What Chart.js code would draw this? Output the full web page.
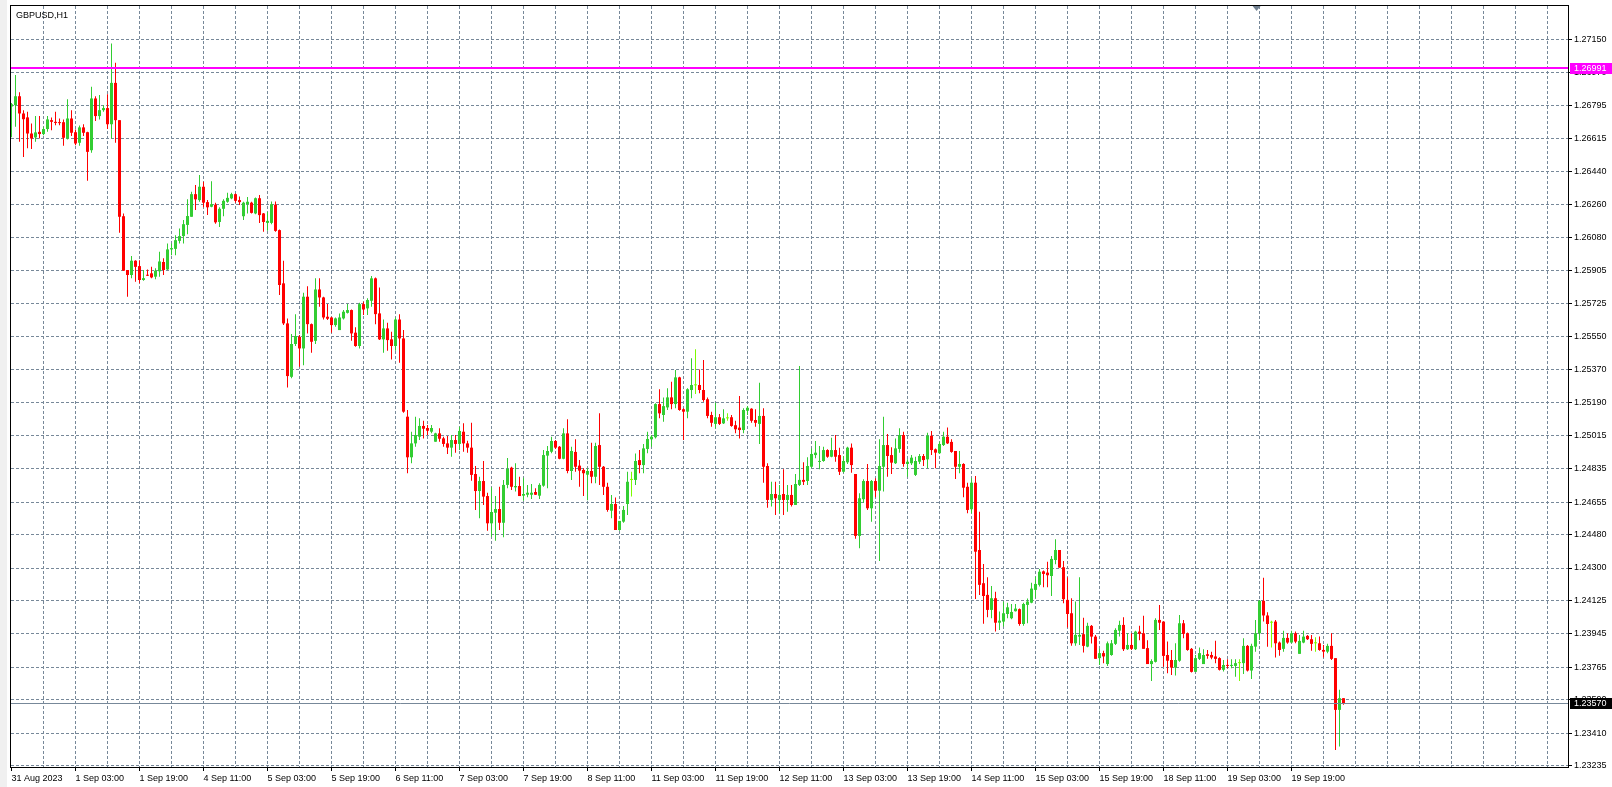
<!DOCTYPE html>
<html><head><meta charset="utf-8">
<script src="https://cdn.jsdelivr.net/npm/chart.js@4.4.0/dist/chart.umd.min.js"></script>
<style>html,body{margin:0;padding:0;background:#fff;overflow:hidden}canvas{display:block}</style>
</head><body><canvas id="c" width="1612" height="787"></canvas>
<script>
const symbolTitle = 'GBPUSD,H1';
const timeLabels = ['31 Aug 2023','1 Sep 03:00','1 Sep 19:00','4 Sep 11:00','5 Sep 03:00','5 Sep 19:00','6 Sep 11:00','7 Sep 03:00','7 Sep 19:00','8 Sep 11:00','11 Sep 03:00','11 Sep 19:00','12 Sep 11:00','13 Sep 03:00','13 Sep 19:00','14 Sep 11:00','15 Sep 03:00','15 Sep 19:00','18 Sep 11:00','19 Sep 03:00','19 Sep 19:00'];
const priceTicks = [1.27150,1.26970,1.26795,1.26615,1.26440,1.26260,1.26080,1.25905,1.25725,1.25550,1.25370,1.25190,1.25015,1.24835,1.24655,1.24480,1.24300,1.24125,1.23945,1.23765,1.23590,1.23410,1.23235];
const hlinePrice = 1.26991;
const bidPrice = 1.23570;

const openP = [
1.26788,1.26796,1.26844,1.26751,1.26730,1.26643,1.26622,1.26652,1.26640,1.26667,
1.26715,1.26706,1.26704,1.26704,1.26616,1.26724,1.26650,1.26593,1.26676,1.26650,
1.26553,1.26832,1.26737,1.26769,1.26780,1.26693,1.26916,1.26715,1.26197,1.25907,
1.25880,1.25957,1.25928,1.25853,1.25880,1.25889,1.25871,1.25900,1.25950,1.25910,
1.26018,1.26021,1.26064,1.26090,1.26150,1.26194,1.26316,1.26284,1.26356,1.26273,
1.26248,1.26259,1.26166,1.26237,1.26275,1.26293,1.26316,1.26284,1.26197,1.26262,
1.26270,1.26212,1.26294,1.26212,1.26161,1.26161,1.26259,1.26122,1.25835,1.25619,
1.25331,1.25508,1.25547,1.25484,1.25763,1.25615,1.25525,1.25802,1.25759,1.25655,
1.25651,1.25610,1.25583,1.25646,1.25676,1.25691,1.25569,1.25497,1.25723,1.25700,
1.25741,1.25862,1.25673,1.25533,1.25592,1.25533,1.25497,1.25640,1.25538,1.25116,
1.24897,1.24972,1.25008,1.25066,1.25055,1.25035,1.24981,1.25026,1.24999,1.24972,
1.24949,1.24990,1.24969,1.25035,1.24972,1.24949,1.24807,1.24715,1.24769,1.24688,
1.24541,1.24598,1.24618,1.24544,1.24748,1.24841,1.24735,1.24742,1.24690,1.24695,
1.24695,1.24710,1.24690,1.24744,1.24906,1.24927,1.24985,1.24954,1.24889,1.25026,
1.24823,1.24926,1.24852,1.24829,1.24803,1.24823,1.24792,1.24963,1.24846,1.24738,
1.24609,1.24645,1.24505,1.24550,1.24645,1.24775,1.24775,1.24882,1.24855,1.24942,
1.24994,1.25005,1.25184,1.25125,1.25166,1.25220,1.25184,1.25328,1.25156,1.25143,
1.25260,1.25285,1.25287,1.25260,1.25210,1.25125,1.25077,1.25113,1.25080,1.25107,
1.25113,1.25070,1.25057,1.25044,1.25148,1.25159,1.25098,1.25077,1.25120,1.24850,
1.24667,1.24699,1.24667,1.24699,1.24667,1.24694,1.24640,1.24748,1.24775,1.24769,
1.24846,1.24909,1.24872,1.24877,1.24936,1.24900,1.24936,1.24909,1.24819,1.24870,
1.24949,1.24807,1.24473,1.24671,1.24769,1.24622,1.24769,1.24717,1.24846,1.24963,
1.24909,1.24865,1.24942,1.25017,1.24861,1.24865,1.24802,1.24873,1.24904,1.24886,
1.25013,1.24940,1.24919,1.24963,1.25008,1.24980,1.24931,1.24846,1.24861,1.24738,
1.24617,1.24760,1.24397,1.24218,1.24155,1.24074,1.24137,1.24005,1.24011,1.24052,
1.24029,1.24067,1.24078,1.23998,1.24101,1.24113,1.24182,1.24209,1.24282,1.24275,
1.24257,1.24343,1.24397,1.24304,1.24128,1.24056,1.23894,1.23930,1.23943,1.23876,
1.23988,1.23930,1.23814,1.23841,1.23782,1.23831,1.23891,1.23962,1.23993,1.23862,
1.23885,1.23862,1.23957,1.23948,1.23868,1.23782,1.23794,1.24020,1.24011,1.23831,
1.23804,1.23763,1.23800,1.24002,1.23948,1.23864,1.23740,1.23810,1.23782,1.23835,
1.23831,1.23823,1.23814,1.23751,1.23777,1.23772,1.23772,1.23787,1.23787,1.23880,
1.23747,1.23876,1.23948,1.24123,1.24044,1.24005,1.24011,1.23898,1.23864,1.23923,
1.23898,1.23948,1.23837,1.23898,1.23934,1.23916,1.23894,1.23894,1.23858,1.23849,
1.23880,1.23814,1.23535,1.23598];

const highP = [
1.26807,1.26958,1.26866,1.26769,1.26760,1.26697,1.26737,1.26737,1.26679,1.26737,
1.26730,1.26760,1.26724,1.26719,1.26828,1.26769,1.26665,1.26686,1.26693,1.26652,
1.26895,1.26844,1.26850,1.26796,1.26855,1.27128,1.27024,1.26715,1.26212,1.25907,
1.25982,1.25960,1.25960,1.25907,1.25910,1.25924,1.25917,1.26005,1.25971,1.26050,
1.26050,1.26095,1.26131,1.26176,1.26288,1.26329,1.26365,1.26419,1.26383,1.26284,
1.26386,1.26270,1.26245,1.26288,1.26323,1.26323,1.26320,1.26304,1.26275,1.26300,
1.26275,1.26298,1.26312,1.26215,1.26220,1.26277,1.26277,1.26126,1.25957,1.25646,
1.25562,1.25669,1.25556,1.25784,1.25820,1.25619,1.25862,1.25862,1.25763,1.25723,
1.25655,1.25651,1.25673,1.25691,1.25723,1.25694,1.25598,1.25730,1.25736,1.25754,
1.25874,1.25867,1.25813,1.25640,1.25622,1.25574,1.25651,1.25669,1.25583,1.25152,
1.25035,1.25116,1.25107,1.25094,1.25071,1.25071,1.25030,1.25053,1.25008,1.25012,
1.25017,1.25017,1.25062,1.25080,1.24986,1.25083,1.24850,1.24792,1.24877,1.24706,
1.24735,1.24688,1.24738,1.24775,1.24893,1.24846,1.24865,1.24792,1.24787,1.24748,
1.24753,1.24730,1.24757,1.24936,1.24958,1.25008,1.24990,1.24958,1.25053,1.25102,
1.24954,1.24994,1.24882,1.24838,1.24838,1.24975,1.24976,1.25134,1.24850,1.24760,
1.24694,1.24680,1.24554,1.24634,1.24819,1.24819,1.24918,1.24936,1.24969,1.25035,
1.25017,1.25188,1.25264,1.25220,1.25269,1.25304,1.25368,1.25331,1.25161,1.25269,
1.25431,1.25479,1.25371,1.25421,1.25220,1.25143,1.25191,1.25130,1.25156,1.25134,
1.25125,1.25094,1.25227,1.25161,1.25173,1.25161,1.25156,1.25299,1.25161,1.24865,
1.24765,1.24765,1.24748,1.24833,1.24748,1.24748,1.24807,1.25389,1.24870,1.24897,
1.24945,1.24985,1.24958,1.24954,1.24940,1.25003,1.25017,1.24949,1.24904,1.24954,
1.24972,1.24807,1.24703,1.24778,1.24861,1.24775,1.24784,1.24994,1.25116,1.25023,
1.24951,1.24999,1.25053,1.25035,1.24886,1.24909,1.24900,1.24915,1.24915,1.25030,
1.25039,1.24945,1.24981,1.25035,1.25057,1.24994,1.24931,1.24931,1.24865,1.24760,
1.24784,1.24796,1.24604,1.24322,1.24250,1.24203,1.24172,1.24065,1.24119,1.24113,
1.24106,1.24106,1.24081,1.24113,1.24135,1.24221,1.24253,1.24295,1.24286,1.24334,
1.24365,1.24455,1.24397,1.24338,1.24250,1.24137,1.24119,1.24250,1.24032,1.24005,
1.23993,1.23939,1.23864,1.23854,1.23903,1.23912,1.23975,1.24016,1.24035,1.23948,
1.23948,1.23961,1.23988,1.24042,1.23911,1.23808,1.24029,1.24101,1.24011,1.23903,
1.23858,1.23894,1.24047,1.24020,1.23952,1.23868,1.23831,1.23871,1.23862,1.23858,
1.23849,1.23908,1.23819,1.23804,1.23808,1.23808,1.23808,1.23808,1.23921,1.23885,
1.23891,1.24020,1.24128,1.24248,1.24062,1.24016,1.24020,1.23903,1.23961,1.23948,
1.23961,1.23957,1.23939,1.23961,1.23939,1.23939,1.23927,1.23930,1.23885,1.23891,
1.23948,1.23814,1.23643,1.23598];

const lowP = [
1.26623,1.26679,1.26598,1.26517,1.26563,1.26559,1.26598,1.26616,1.26634,1.26652,
1.26661,1.26688,1.26688,1.26577,1.26611,1.26629,1.26580,1.26577,1.26629,1.26388,
1.26539,1.26711,1.26719,1.26760,1.26667,1.26616,1.26593,1.26108,1.25903,1.25763,
1.25862,1.25843,1.25835,1.25849,1.25874,1.25862,1.25857,1.25871,1.25880,1.25907,
1.25987,1.25987,1.26050,1.26050,1.26100,1.26194,1.26230,1.26275,1.26245,1.26203,
1.26245,1.26157,1.26139,1.26197,1.26270,1.26288,1.26270,1.26257,1.26176,1.26212,
1.26212,1.26207,1.26161,1.26113,1.26118,1.26154,1.26113,1.25772,1.25610,1.25274,
1.25323,1.25497,1.25385,1.25394,1.25565,1.25461,1.25508,1.25709,1.25640,1.25637,
1.25569,1.25601,1.25583,1.25640,1.25673,1.25525,1.25493,1.25484,1.25664,1.25664,
1.25709,1.25615,1.25529,1.25461,1.25472,1.25425,1.25472,1.25407,1.25137,1.24811,
1.24865,1.24954,1.24990,1.24999,1.25017,1.25026,1.24981,1.24981,1.24954,1.24915,
1.24900,1.24922,1.24936,1.24927,1.24922,1.24771,1.24613,1.24568,1.24640,1.24501,
1.24469,1.24447,1.24505,1.24466,1.24730,1.24721,1.24712,1.24688,1.24663,1.24681,
1.24672,1.24694,1.24672,1.24738,1.24730,1.24919,1.24942,1.24886,1.24886,1.24811,
1.24775,1.24819,1.24738,1.24688,1.24665,1.24757,1.24757,1.24748,1.24694,1.24604,
1.24568,1.24505,1.24501,1.24544,1.24586,1.24685,1.24748,1.24811,1.24811,1.24919,
1.24954,1.24999,1.25107,1.25089,1.25152,1.25156,1.25161,1.25148,1.24990,1.25107,
1.25215,1.25238,1.25242,1.25197,1.25107,1.25062,1.25053,1.25071,1.25077,1.25094,
1.25062,1.25026,1.24999,1.25026,1.25125,1.25083,1.25062,1.24969,1.24760,1.24625,
1.24631,1.24586,1.24595,1.24586,1.24604,1.24631,1.24640,1.24742,1.24748,1.24748,
1.24838,1.24892,1.24833,1.24873,1.24895,1.24897,1.24873,1.24802,1.24814,1.24861,
1.24814,1.24458,1.24406,1.24652,1.24613,1.24550,1.24681,1.24338,1.24712,1.24792,
1.24807,1.24861,1.24922,1.24846,1.24792,1.24855,1.24796,1.24861,1.24850,1.24838,
1.24909,1.24838,1.24915,1.24958,1.24969,1.24922,1.24780,1.24811,1.24681,1.24595,
1.24595,1.24133,1.24155,1.23999,1.24035,1.24029,1.23957,1.23966,1.23984,1.24029,
1.24023,1.24065,1.23988,1.23988,1.24002,1.24110,1.24140,1.24200,1.24196,1.24196,
1.24149,1.24320,1.24302,1.24110,1.23979,1.23881,1.23881,1.23885,1.23844,1.23873,
1.23893,1.23810,1.23777,1.23786,1.23771,1.23827,1.23885,1.23930,1.23853,1.23858,
1.23858,1.23858,1.23911,1.23864,1.23782,1.23691,1.23791,1.23966,1.23768,1.23733,
1.23723,1.23720,1.23794,1.23921,1.23854,1.23736,1.23740,1.23804,1.23782,1.23810,
1.23808,1.23786,1.23747,1.23742,1.23760,1.23760,1.23713,1.23691,1.23729,1.23742,
1.23702,1.23848,1.23912,1.24011,1.23876,1.23871,1.23817,1.23827,1.23849,1.23891,
1.23894,1.23894,1.23837,1.23894,1.23912,1.23854,1.23849,1.23854,1.23817,1.23840,
1.23804,1.23319,1.23337,1.23562];

const closeP = [
1.26801,1.26844,1.26751,1.26720,1.26643,1.26616,1.26649,1.26640,1.26667,1.26719,
1.26706,1.26700,1.26699,1.26620,1.26724,1.26647,1.26589,1.26676,1.26647,1.26544,
1.26832,1.26737,1.26769,1.26780,1.26693,1.26916,1.26715,1.26194,1.25903,1.25880,
1.25957,1.25924,1.25853,1.25863,1.25876,1.25867,1.25903,1.25953,1.25907,1.26018,
1.26025,1.26068,1.26090,1.26154,1.26198,1.26316,1.26288,1.26356,1.26270,1.26245,
1.26262,1.26164,1.26237,1.26280,1.26296,1.26316,1.26280,1.26273,1.26270,1.26275,
1.26215,1.26294,1.26203,1.26166,1.26172,1.26262,1.26118,1.25826,1.25619,1.25335,
1.25508,1.25551,1.25484,1.25763,1.25615,1.25520,1.25802,1.25759,1.25651,1.25644,
1.25610,1.25646,1.25651,1.25682,1.25691,1.25565,1.25497,1.25723,1.25694,1.25745,
1.25862,1.25669,1.25533,1.25592,1.25529,1.25497,1.25640,1.25538,1.25143,1.24897,
1.24972,1.25017,1.25066,1.25051,1.25040,1.25055,1.25026,1.24997,1.24969,1.24949,
1.24990,1.24969,1.25039,1.24972,1.24949,1.24802,1.24715,1.24769,1.24685,1.24541,
1.24602,1.24618,1.24544,1.24748,1.24834,1.24738,1.24742,1.24688,1.24699,1.24706,
1.24706,1.24695,1.24748,1.24909,1.24931,1.24985,1.24949,1.24889,1.25026,1.24823,
1.24931,1.24846,1.24825,1.24811,1.24823,1.24792,1.24958,1.24846,1.24738,1.24613,
1.24645,1.24505,1.24554,1.24613,1.24765,1.24775,1.24877,1.24855,1.24945,1.24996,
1.25008,1.25184,1.25134,1.25173,1.25220,1.25184,1.25328,1.25152,1.25143,1.25264,
1.25287,1.25285,1.25260,1.25206,1.25120,1.25083,1.25113,1.25077,1.25107,1.25107,
1.25066,1.25048,1.25044,1.25152,1.25164,1.25094,1.25083,1.25120,1.24846,1.24667,
1.24699,1.24676,1.24694,1.24667,1.24694,1.24640,1.24753,1.24775,1.24765,1.24850,
1.24915,1.24922,1.24877,1.24936,1.24900,1.24936,1.24900,1.24819,1.24877,1.24949,
1.24855,1.24473,1.24676,1.24769,1.24622,1.24769,1.24717,1.24850,1.24963,1.24904,
1.24868,1.24945,1.25017,1.24861,1.24873,1.24895,1.24877,1.24904,1.24882,1.25013,
1.24936,1.24922,1.24969,1.25008,1.24972,1.24926,1.24846,1.24861,1.24733,1.24613,
1.24760,1.24388,1.24209,1.24149,1.24074,1.24137,1.24005,1.24016,1.24056,1.24088,
1.24063,1.24081,1.23998,1.24106,1.24119,1.24189,1.24214,1.24280,1.24268,1.24261,
1.24349,1.24397,1.24302,1.24132,1.24052,1.23894,1.23939,1.23939,1.23880,1.23988,
1.23930,1.23810,1.23841,1.23823,1.23894,1.23894,1.23966,1.23993,1.23862,1.23885,
1.23864,1.23957,1.23945,1.23864,1.23782,1.23798,1.24020,1.24005,1.23826,1.23800,
1.23763,1.23804,1.24002,1.23945,1.23858,1.23740,1.23814,1.23841,1.23831,1.23826,
1.23817,1.23810,1.23751,1.23777,1.23772,1.23777,1.23787,1.23787,1.23880,1.23747,
1.23880,1.23948,1.24123,1.24044,1.23998,1.24005,1.23894,1.23858,1.23923,1.23898,
1.23948,1.23903,1.23907,1.23930,1.23916,1.23891,1.23894,1.23858,1.23849,1.23880,
1.23810,1.23535,1.23598,1.23570];

const BULL = '#32CD32', BEAR = '#FF0000', DOJI = '#7CFC00', GRID = '#778899';
const FONT = "'Liberation Sans', Arial, sans-serif";
const FONT_SIZE = 9;
const BARS_PER_GRID = 8, BARS_PER_LABEL = 16, VISIBLE_SLOTS = 389.25;

const colors = openP.map((o, i) => closeP[i] > o ? BULL : (closeP[i] < o ? BEAR : DOJI));
const bodyData = openP.map((o, i) => ({x: i, y: [Math.min(o, closeP[i]), Math.max(o, closeP[i])]}));
const wickData = openP.map((o, i) => ({x: i, y: [lowP[i], highP[i]]}));

const overlay = {
  id: 'overlay',
  beforeDraw(chart) {
    const {ctx, width, height} = chart;
    ctx.save();
    ctx.fillStyle = '#fff'; ctx.fillRect(0, 0, width, height);
    ctx.fillStyle = '#f0f0f0'; ctx.fillRect(0, 0, 7, height);
    ctx.restore();
  },
  afterDatasetsDraw(chart) {
    const {ctx, chartArea: a, scales: {y}} = chart;
    ctx.save();
    const by = Math.round(y.getPixelForValue(bidPrice) - 0.5) + 0.5;
    ctx.strokeStyle = GRID; ctx.lineWidth = 1;
    ctx.beginPath(); ctx.moveTo(a.left, by); ctx.lineTo(a.right, by); ctx.stroke();
    const hy = Math.floor(y.getPixelForValue(hlinePrice));
    ctx.strokeStyle = '#FF00FF'; ctx.lineWidth = 2;
    ctx.beginPath(); ctx.moveTo(a.left, hy); ctx.lineTo(a.right, hy); ctx.stroke();
    ctx.restore();
  },
  afterDraw(chart) {
    const {ctx, chartArea: a, scales: {y}} = chart;
    ctx.save();
    ctx.fillStyle = '#000';
    ctx.fillRect(a.left - 1, a.top - 1, a.right - a.left + 2, 1);
    ctx.fillRect(a.left - 1, a.top - 1, 1, a.bottom - a.top + 2);
    ctx.font = FONT_SIZE + 'px ' + FONT; ctx.textBaseline = 'middle'; ctx.textAlign = 'left';
    const box = (price, bg, fg, py) => {
      ctx.fillStyle = bg; ctx.fillRect(a.right + 2, py - 5, chart.width - a.right - 2, 11);
      ctx.fillStyle = fg; ctx.fillText(price.toFixed(5), a.right + 6, py + 0.5);
    };
    box(hlinePrice, '#FF00FF', '#fff', Math.floor(y.getPixelForValue(hlinePrice)));
    box(bidPrice, '#000', '#fff', Math.round(y.getPixelForValue(bidPrice)));
    ctx.fillStyle = '#000';
    ctx.fillText(symbolTitle, a.left + 5, a.top + 9.5);
    const sx = a.left + 0.8 * (a.right - a.left);
    ctx.fillStyle = '#708090';
    ctx.beginPath(); ctx.moveTo(sx - 4, a.top); ctx.lineTo(sx + 4, a.top); ctx.lineTo(sx, a.top + 5); ctx.closePath(); ctx.fill();
    ctx.restore();
  }
};

new Chart(document.getElementById('c'), {
  type: 'bar',
  data: {
    datasets: [
      {data: bodyData, backgroundColor: colors, barThickness: 3, minBarLength: 1, grouped: false, inflateAmount: 0, borderWidth: 0},
      {data: wickData, backgroundColor: colors, barThickness: 1, grouped: false, inflateAmount: 0, borderWidth: 0}
    ]
  },
  options: {
    responsive: false, animation: false, devicePixelRatio: 1, events: [],
    layout: {padding: {left: 11, top: 6, right: 0, bottom: 0}},
    plugins: {legend: {display: false}, tooltip: {enabled: false}, title: {display: false}},
    scales: {
      x: {
        type: 'linear', offset: false, bounds: 'data',
        min: -0.125, max: -0.125 + VISIBLE_SLOTS,
        afterBuildTicks: s => { const t = []; for (let v = 0; v <= s.max; v += BARS_PER_GRID) t.push({value: v}); s.ticks = t; },
        afterFit: s => { s.height = 20; s.paddingLeft = 0; s.paddingRight = 0; },
        grid: {
          offset: false, drawOnChartArea: true, lineWidth: 1,
          color: c => (c.tick && c.tick.value === 0) ? 'rgba(0,0,0,0)' : GRID,
          tickLength: 4, tickWidth: 1,
          tickColor: c => (c.tick && c.tick.value % BARS_PER_LABEL === 0 && timeLabels[c.tick.value / BARS_PER_LABEL]) ? '#000' : 'rgba(0,0,0,0)'
        },
        border: {display: true, color: '#000', width: 1, dash: [3, 2]},
        ticks: {
          autoSkip: false, maxRotation: 0, minRotation: 0, align: 'start', padding: 2,
          color: '#000', font: {family: FONT, size: FONT_SIZE},
          callback: v => (v % BARS_PER_LABEL === 0 && timeLabels[v / BARS_PER_LABEL]) ? timeLabels[v / BARS_PER_LABEL] : ''
        }
      },
      y: {
        type: 'linear', position: 'right', bounds: 'data', beginAtZero: false,
        min: 1.232269, max: 1.273306,
        afterBuildTicks: s => { s.ticks = priceTicks.map(v => ({value: v})); },
        afterFit: s => { s.width = 44; s.paddingTop = 0; s.paddingBottom = 0; },
        grid: {color: GRID, lineWidth: 1, tickLength: 4, tickColor: '#000', tickWidth: 1},
        border: {display: true, color: '#000', width: 1, dash: [3, 2]},
        ticks: {autoSkip: false, padding: 2, color: '#000', font: {family: FONT, size: FONT_SIZE}, callback: v => v.toFixed(5)}
      }
    }
  },
  plugins: [overlay]
});
</script>
</body></html>
